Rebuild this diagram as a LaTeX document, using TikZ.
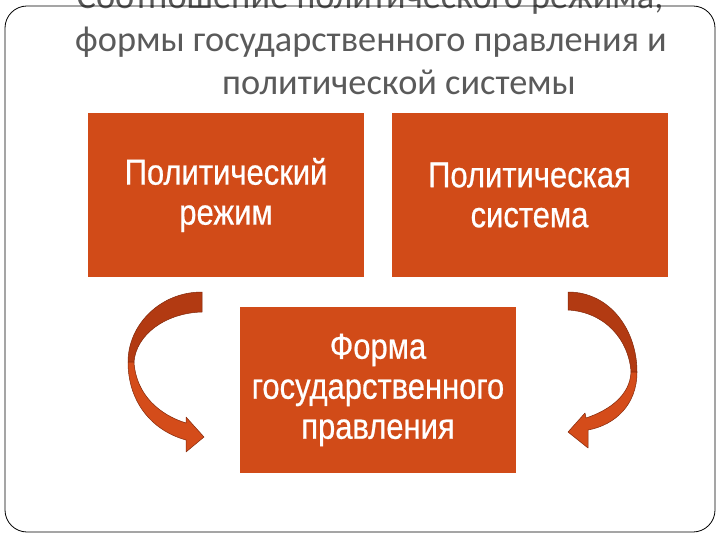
\documentclass[tikz,border=0pt]{standalone}
\usepackage{fontspec}
\setmainfont{Carlito}
\newfontfamily\boxfont[FakeStretch=0.86,FakeBold=0.6]{Liberation Sans}
\definecolor{boxorange}{RGB}{209,75,24}
\definecolor{titlegray}{RGB}{90,90,90}
\definecolor{arrback}{RGB}{178,58,18}
\definecolor{arrfront}{RGB}{212,76,26}
\definecolor{arredge}{RGB}{130,40,10}
\begin{document}
\begin{tikzpicture}[x=1pt,y=-1pt,
  titletext/.style={anchor=base, text=titlegray, font=\fontsize{36.3}{40}\selectfont, inner sep=0pt},
  orbox/.style={fill=boxorange, draw=none, minimum width=276pt, inner sep=0pt,
    text=white, align=center, font=\boxfont\fontsize{36}{40}\selectfont},
  arrowback/.style={fill=arrback, draw=arredge, line width=0.5pt, line join=round},
  arrowfront/.style={fill=arrfront, draw=arredge, line width=0.5pt, line join=round}]
\useasboundingbox (0,0) rectangle (720,540);
\fill[white] (0,0) rectangle (720,540);
% title
\node[titletext] (t1) at (370,9) {Соотношение политического режима,};
\node[titletext] (t2) at (371,52) {формы государственного правления и};
\node[titletext] (t3) at (399,95) {политической системы};
% frame
\draw[black, line width=0.8pt, rounded corners=22pt] (5,6) rectangle (715,532);
% boxes
\node[orbox, minimum height=164pt] (regime) at (226,195) {Политический\\режим};
\node[orbox, minimum height=164pt] (system) at (529.5,195) {Политическая\\система};
\node[orbox, minimum height=166pt] (form) at (378,390) {Форма\\государственного\\правления};
% left curved arrow
\draw[arrowback] (202,292) .. controls (160,292) and (128,325) .. (128,362)
  -- (134,362) .. controls (136,335) and (165,313) .. (202,312) -- cycle;
\draw[arrowfront] (128,362) .. controls (128,400) and (150,430) .. (186,440)
  -- (186,452) -- (204,437) -- (186,417) -- (186,423)
  .. controls (160,415) and (136,395) .. (134,362) -- cycle;
% right curved arrow
\draw[arrowback] (568,292) .. controls (610,292) and (637,330) .. (637,372)
  -- (631,372) .. controls (629,340) and (605,312) .. (568,310) -- cycle;
\draw[arrowfront] (637,372) .. controls (637,405) and (615,425) .. (588,430)
  -- (588,448) -- (568,432) -- (585,413) -- (586,418)
  .. controls (610,410) and (630,395) .. (631,372) -- cycle;
\end{tikzpicture}
\end{document}
